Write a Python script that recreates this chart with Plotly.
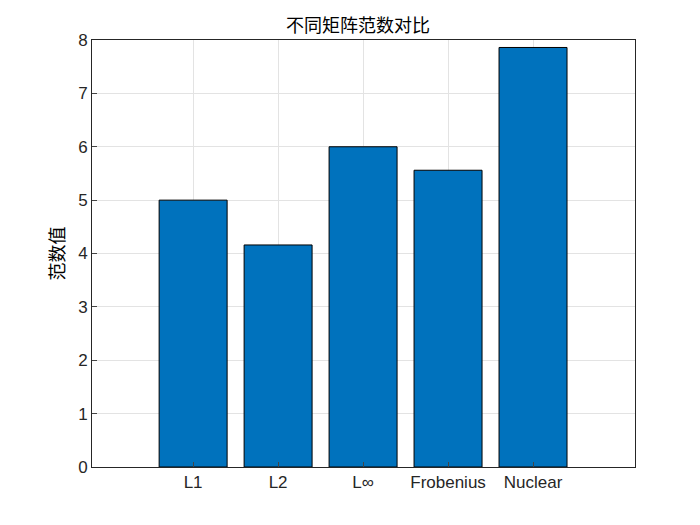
import plotly.graph_objects as go

categories = ["L1", "L2", "L∞", "Frobenius", "Nuclear"]
values = [5.0, 4.16, 6.0, 5.56, 7.86]

fig = go.Figure(go.Bar(
    x=list(range(len(categories))), y=values, width=0.8,
    marker=dict(color="#0072BD", line=dict(color="black", width=1)),
))
fig.update_layout(
    width=700, height=525, plot_bgcolor="white", paper_bgcolor="white",
    margin=dict(l=84, r=73, t=32, b=66), showlegend=False,
    title=dict(text="不同矩阵范数对比", x=0.5, xanchor="center", y=0.955, yanchor="bottom",
               font=dict(family="Noto Sans CJK SC", size=18, color="black")),
    font=dict(family="Arial, Liberation Sans", size=17, color="#262626"),
)
fig.update_xaxes(range=[-1.19, 5.2], tickmode="array", tickvals=list(range(len(categories))),
                 ticktext=categories, showgrid=True, gridcolor="#e3e3e3",
                 showline=True, linecolor="#262626", mirror=True, ticks="inside", ticklen=5, zeroline=False)
fig.update_yaxes(range=[0, 8], dtick=1, showgrid=True, gridcolor="#e3e3e3",
                 showline=True, linecolor="#262626", mirror=True, ticks="inside", ticklen=5, zeroline=False,
                 title=dict(text="范数值", font=dict(family="Noto Sans CJK SC", size=18, color="black"), standoff=8))
fig.write_html("out.html")
